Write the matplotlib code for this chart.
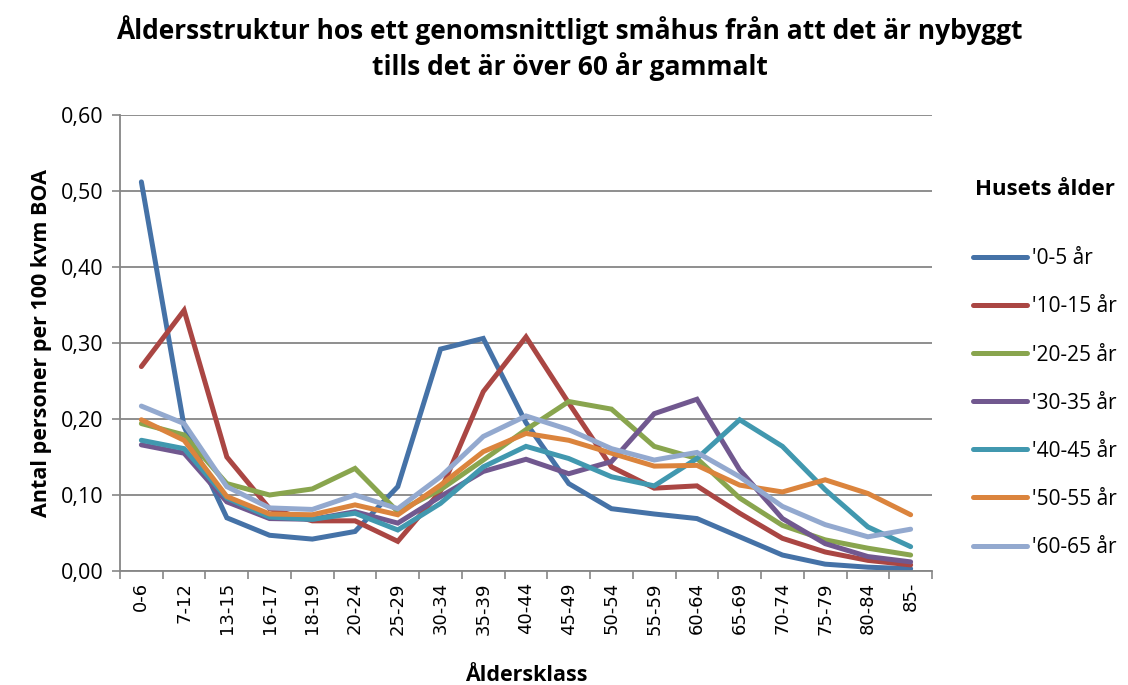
import matplotlib
matplotlib.use("Agg")
import matplotlib.pyplot as plt
import numpy as np

categories = ["0-6", "7-12", "13-15", "16-17", "18-19", "20-24", "25-29", "30-34",
              "35-39", "40-44", "45-49", "50-54", "55-59", "60-64", "65-69", "70-74",
              "75-79", "80-84", "85-"]

s_0_5 = [0.512, 0.190, 0.070, 0.047, 0.042, 0.052, 0.111, 0.292, 0.306, 0.195,
         0.115, 0.082, 0.075, 0.069, 0.045, 0.021, 0.009, 0.005, 0.003]
s_10_15 = [0.269, 0.343, 0.150, 0.082, 0.066, 0.066, 0.039, 0.105, 0.236, 0.308,
           0.221, 0.137, 0.109, 0.112, 0.076, 0.043, 0.025, 0.014, 0.008]
s_20_25 = [0.194, 0.179, 0.115, 0.100, 0.108, 0.135, 0.078, 0.107, 0.146, 0.186,
           0.223, 0.213, 0.164, 0.148, 0.096, 0.060, 0.041, 0.030, 0.021]
s_30_35 = [0.166, 0.155, 0.091, 0.069, 0.068, 0.078, 0.063, 0.098, 0.131, 0.147,
           0.128, 0.144, 0.207, 0.226, 0.133, 0.069, 0.036, 0.019, 0.012]
s_40_45 = [0.172, 0.161, 0.096, 0.071, 0.068, 0.076, 0.054, 0.089, 0.137, 0.164,
           0.148, 0.124, 0.112, 0.148, 0.199, 0.164, 0.107, 0.058, 0.032]
s_50_55 = [0.199, 0.172, 0.098, 0.075, 0.074, 0.087, 0.074, 0.113, 0.157, 0.181,
           0.172, 0.155, 0.138, 0.139, 0.113, 0.104, 0.120, 0.102, 0.074]
s_60_65 = [0.217, 0.194, 0.111, 0.083, 0.081, 0.100, 0.082, 0.124, 0.177, 0.204,
           0.186, 0.161, 0.146, 0.156, 0.124, 0.085, 0.061, 0.045, 0.055]

series_labels = ["'0-5 år", "'10-15 år", "'20-25 år", "'30-35 år", "'40-45 år",
                 "'50-55 år", "'60-65 år"]
series = [s_0_5, s_10_15, s_20_25, s_30_35, s_40_45, s_50_55, s_60_65]
colors = ['#4572A7', '#AA4643', '#89A54E', '#71588F', '#4198AF', '#DB843D', '#93A9CF']

yticks = [0.0, 0.1, 0.2, 0.3, 0.4, 0.5, 0.6]
ytick_labels = ["0,00", "0,10", "0,20", "0,30", "0,40", "0,50", "0,60"]

plt.rcParams['font.family'] = ['Open Sans', 'DejaVu Sans']

fig = plt.figure(figsize=(11.28, 6.85), dpi=100)
ax = fig.add_axes([120/1128, 1-571/685, (932-120)/1128, (571-115)/685])

x = np.arange(len(categories))
for vals, lab, c in zip(series, series_labels, colors):
    ax.plot(x, vals, color=c, lw=3.6, label=lab, solid_joinstyle='miter',
            solid_capstyle='round')

ax.set_xlim(-0.5, len(categories) - 0.5)
ax.set_ylim(0, 0.6)
ax.set_yticks(yticks)
ax.set_yticklabels(ytick_labels, fontsize=15.5)
ax.yaxis.grid(True, color='#868686', lw=1.3)
ax.set_axisbelow(True)

ax.set_xticks(np.arange(-0.5, len(categories), 1.0))
ax.set_xticklabels([])
ax.set_xticks(x, minor=True)
ax.set_xticklabels(categories, minor=True, rotation=90, fontsize=13,
                   family=['DejaVu Sans'])
ax.tick_params(axis='x', which='minor', length=0, pad=8)
ax.tick_params(axis='x', which='major', length=6, width=1.2, color='#868686')
ax.tick_params(axis='y', length=6, width=1.2, color='#868686', pad=6)

for sp in ['top', 'right']:
    ax.spines[sp].set_visible(False)
for sp in ['left', 'bottom']:
    ax.spines[sp].set_color('#868686')
    ax.spines[sp].set_linewidth(1.3)

ax.set_xlabel("Åldersklass", fontsize=15.5, fontweight='bold', labelpad=22)
ax.set_ylabel("Antal personer per 100 kvm BOA", fontsize=15.5, fontweight='bold',
              labelpad=6)

fig.text(0.5 + 0.005, 670/685, "Åldersstruktur hos ett genomsnittligt småhus från att det är nybyggt\ntills det är över 60 år gammalt",
         ha='center', va='top', fontsize=19, fontweight='bold', linespacing=1.3)

leg = ax.legend(loc='upper left', bbox_to_anchor=(954/1128, 1-160/685),
                bbox_transform=fig.transFigure, frameon=False, fontsize=15,
                title="Husets ålder", title_fontproperties={'weight': 'bold', 'size': 16},
                handlelength=2.6, labelspacing=1.3, handletextpad=0.25)
leg._legend_box.sep = 35

fig.savefig("out.png", dpi=100)
